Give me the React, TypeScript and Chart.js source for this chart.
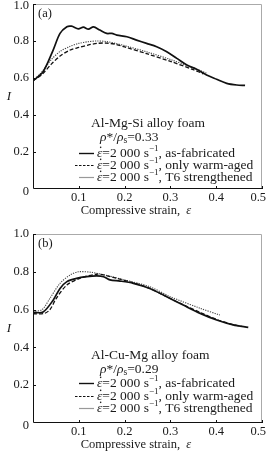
import React, { useEffect, useRef } from "react";
import { Chart, registerables } from "chart.js";
Chart.register(...registerables);

const xTicks = [0, 0.1, 0.2, 0.3, 0.4, 0.5];
const yTicks = [0, 0.2, 0.4, 0.6, 0.8, 1.0];
const xTickLabels = ["", "0.1", "0.2", "0.3", "0.4", "0.5"];
const yTickLabels = ["0", "0.2", "0.4", "0.6", "0.8", "1.0"];

// Panel (a) Al-Mg-Si
const aFabStrain = [0, 0.022, 0.044, 0.059, 0.074, 0.084, 0.099, 0.11, 0.121, 0.132, 0.146, 0.161, 0.172, 0.183, 0.205, 0.226, 0.248, 0.27, 0.292, 0.314, 0.336, 0.357, 0.379, 0.401, 0.423, 0.445, 0.463];
const aFabI = [0.585, 0.634, 0.751, 0.841, 0.877, 0.88, 0.866, 0.875, 0.864, 0.876, 0.859, 0.841, 0.841, 0.832, 0.823, 0.805, 0.787, 0.769, 0.742, 0.706, 0.67, 0.647, 0.616, 0.593, 0.571, 0.562, 0.56];
const aWarmStrain = [0, 0.02, 0.04, 0.06, 0.08, 0.10, 0.12, 0.14, 0.16, 0.18, 0.20, 0.25, 0.30, 0.35, 0.372];
const aWarmI = [0.585, 0.62, 0.675, 0.72, 0.75, 0.765, 0.778, 0.787, 0.789, 0.782, 0.768, 0.73, 0.69, 0.645, 0.622];
const aT6Strain = [0, 0.02, 0.04, 0.06, 0.08, 0.10, 0.12, 0.14, 0.16, 0.18, 0.20, 0.25, 0.30, 0.35, 0.38];
const aT6I = [0.585, 0.635, 0.70, 0.745, 0.77, 0.787, 0.796, 0.80, 0.797, 0.787, 0.775, 0.74, 0.70, 0.655, 0.625];

// Panel (b) Al-Cu-Mg
const bFabStrain = [0, 0.022, 0.044, 0.059, 0.074, 0.095, 0.117, 0.139, 0.154, 0.168, 0.19, 0.219, 0.255, 0.292, 0.328, 0.365, 0.401, 0.437, 0.47];
const bFabI = [0.585, 0.587, 0.65, 0.712, 0.748, 0.765, 0.774, 0.778, 0.774, 0.757, 0.751, 0.739, 0.712, 0.668, 0.624, 0.58, 0.545, 0.519, 0.506];
const bWarmStrain = [0, 0.025, 0.037, 0.051, 0.074, 0.102, 0.139, 0.16, 0.183, 0.219, 0.255, 0.292, 0.328, 0.365, 0.401, 0.437, 0.455];
const bWarmI = [0.578, 0.58, 0.6, 0.66, 0.73, 0.765, 0.787, 0.78, 0.765, 0.742, 0.712, 0.668, 0.626, 0.585, 0.548, 0.52, 0.512];
const bT6Strain = [0, 0.02, 0.037, 0.059, 0.081, 0.099, 0.128, 0.157, 0.2, 0.255, 0.3, 0.365, 0.408];
const bT6I = [0.59, 0.6, 0.66, 0.739, 0.783, 0.80, 0.797, 0.783, 0.757, 0.721, 0.668, 0.607, 0.571];

const seriesNames = ["as-fabricated", "only warm-aged", "T6 strengthened"];

const SERIF = "'Liberation Serif', 'Times New Roman', serif";
const TXT = "#1a1a1a";

type Run = { t: string; italic?: boolean; size?: number; dy?: number; dot?: boolean };

function drawRuns(ctx: CanvasRenderingContext2D, x: number, y: number, runs: Run[], base: number) {
  let cx = x;
  ctx.textBaseline = "middle";
  ctx.textAlign = "left";
  for (const r of runs) {
    const s = r.size ?? base;
    ctx.font = `${r.italic ? "italic " : ""}${s}px ${SERIF}`;
    ctx.fillText(r.t, cx, y + (r.dy ?? 0));
    const w = ctx.measureText(r.t).width;
    if (r.dot) {
      ctx.beginPath();
      ctx.arc(cx + w / 2 + 1, y - s * 0.42, 0.8, 0, Math.PI * 2);
      ctx.fill();
    }
    cx += w;
  }
}

function toXY(xs: number[], ys: number[]) {
  return xs.map((x, i) => ({ x, y: ys[i] }));
}

const styles = [
  { color: "#111", width: 1.7, dash: [] as number[] },
  { color: "#111", width: 1.3, dash: [4, 2] },
  { color: "#444", width: 1.1, dash: [1.2, 1.2] },
];

type PanelProps = {
  height: number;
  padTop: number;
  xAxisH: number;
  label: string;
  alloy: string;
  density: string;
  series: { xs: number[]; ys: number[] }[];
  textY: number[];
};

function Panel(p: PanelProps) {
  const ref = useRef<HTMLCanvasElement>(null);
  useEffect(() => {
    if (!ref.current) return;
    const deco = {
      id: "deco",
      afterDraw(chart: any) {
        const ctx: CanvasRenderingContext2D = chart.ctx;
        const a = chart.chartArea;
        const xs = chart.scales.x;
        const ys = chart.scales.y;
        ctx.save();
        ctx.lineWidth = 1;
        ctx.strokeStyle = "#aaa";
        ctx.beginPath();
        ctx.moveTo(a.left, a.top + 0.5);
        ctx.lineTo(a.right - 0.5, a.top + 0.5);
        ctx.lineTo(a.right - 0.5, a.bottom);
        ctx.stroke();
        ctx.strokeStyle = "#111";
        ctx.beginPath();
        ctx.moveTo(a.left + 0.5, a.top);
        ctx.lineTo(a.left + 0.5, a.bottom - 0.5);
        ctx.lineTo(a.right, a.bottom - 0.5);
        ctx.stroke();
        ctx.beginPath();
        for (const v of xTicks) {
          if (v === 0) continue;
          const px = Math.round(xs.getPixelForValue(v)) + 0.5;
          ctx.moveTo(px, a.bottom);
          ctx.lineTo(px, a.bottom - 3);
        }
        for (const v of yTicks) {
          if (v === 0) continue;
          const py = Math.round(ys.getPixelForValue(v)) + 0.5;
          ctx.moveTo(a.left, py);
          ctx.lineTo(a.left + 3, py);
        }
        ctx.stroke();
        ctx.fillStyle = TXT;
        ctx.font = `12.5px ${SERIF}`;
        ctx.textBaseline = "middle";
        ctx.textAlign = "right";
        yTicks.forEach((v, i) => {
          const py = ys.getPixelForValue(v) + (v === 0 ? 3 : 0);
          ctx.fillText(yTickLabels[i], a.left - 4, Math.max(py, 6));
        });
        ctx.textAlign = "center";
        xTicks.forEach((v, i) => {
          if (!xTickLabels[i]) return;
          const w = ctx.measureText(xTickLabels[i]).width;
          const px = Math.min(xs.getPixelForValue(v), chart.width - w / 2);
          ctx.fillText(xTickLabels[i], px, a.bottom + 9);
        });
        ctx.font = `italic 13px ${SERIF}`;
        ctx.fillText("I", 9, (a.top + a.bottom) / 2);
        const cxm = 136;
        const t1 = "Compressive strain,  ";
        ctx.font = `12.5px ${SERIF}`;
        const w1 = ctx.measureText(t1).width;
        ctx.font = `italic 12.5px ${SERIF}`;
        const w2 = ctx.measureText("ε").width;
        drawRuns(ctx, cxm - (w1 + w2) / 2, a.bottom + 22, [{ t: t1 }, { t: "ε", italic: true }], 12.5);
        drawRuns(ctx, a.left + 5, a.top + 10, [{ t: p.label }], 12.5);
        const ty = p.textY;
        drawRuns(ctx, 91, ty[0], [{ t: p.alloy }], 13.5);
        drawRuns(ctx, 100, ty[1], [
          { t: "ρ", italic: true },
          { t: "*/" },
          { t: "ρ", italic: true },
          { t: "s", size: 9.5, dy: 3 },
          { t: "=" + p.density },
        ], 13.5);
        for (let i = 0; i < 3; i++) {
          const y = ty[2 + i];
          const st = styles[i];
          ctx.save();
          ctx.strokeStyle = i === 2 ? "#999" : st.color;
          ctx.lineWidth = i === 2 ? 1.2 : i === 1 ? 1.1 : 1.4;
          ctx.setLineDash(i === 1 ? [2.5, 1.5] : []);
          ctx.beginPath();
          ctx.moveTo(i === 1 ? 75 : 79, y + 0.5);
          ctx.lineTo(94, y + 0.5);
          ctx.stroke();
          ctx.restore();
          drawRuns(ctx, 97, y, [
            { t: "ε", italic: true, dot: true },
            { t: "=2 000 s" },
            { t: "−1", size: 9, dy: -4 },
            { t: ", " + seriesNames[i] },
          ], 13.5);
        }
        ctx.restore();
      },
    };
    const chart = new Chart(ref.current, {
      type: "line",
      data: {
        datasets: p.series.map((s, i) => ({
          label: seriesNames[i],
          data: toXY(s.xs, s.ys),
          borderColor: styles[i].color,
          borderWidth: styles[i].width,
          borderDash: styles[i].dash,
          pointRadius: 0,
          tension: 0.3,
          fill: false,
        })),
      },
      options: {
        animation: false,
        responsive: false,
        maintainAspectRatio: false,
        layout: { padding: { top: p.padTop, right: 4, left: 0, bottom: 0 } },
        plugins: { legend: { display: false }, tooltip: { enabled: false } },
        scales: {
          x: {
            type: "linear",
            min: 0,
            max: 0.5,
            afterBuildTicks: (s: any) => {
              s.ticks = xTicks.map((v) => ({ value: v }));
            },
            afterFit: (s: any) => {
              s.height = p.xAxisH;
            },
            grid: { display: false, drawTicks: false },
            border: { display: false },
            ticks: { display: false },
          },
          y: {
            type: "linear",
            min: 0,
            max: 1,
            afterBuildTicks: (s: any) => {
              s.ticks = yTicks.map((v) => ({ value: v }));
            },
            afterFit: (s: any) => {
              s.width = 33;
            },
            grid: { display: false, drawTicks: false },
            border: { display: false },
            ticks: { display: false },
          },
        },
      },
      plugins: [deco],
    } as any);
    return () => chart.destroy();
  }, []);
  return <canvas ref={ref} width={266} height={p.height} style={{ display: "block", width: 266, height: p.height }} />;
}

export default function App() {
  return (
    <div style={{ position: "fixed", left: 0, top: 0, width: 266, height: 455, background: "#fff" }}>
      <Panel
        height={228}
        padTop={4}
        xAxisH={39}
        label="(a)"
        alloy="Al-Mg-Si alloy foam"
        density="0.33"
        series={[
          { xs: aFabStrain, ys: aFabI },
          { xs: aWarmStrain, ys: aWarmI },
          { xs: aT6Strain, ys: aT6I },
        ]}
        textY={[123, 137, 153, 165, 177]}
      />
      <Panel
        height={227}
        padTop={6}
        xAxisH={32}
        label="(b)"
        alloy="Al-Cu-Mg alloy foam"
        density="0.29"
        series={[
          { xs: bFabStrain, ys: bFabI },
          { xs: bWarmStrain, ys: bWarmI },
          { xs: bT6Strain, ys: bT6I },
        ]}
        textY={[127, 141, 155, 168, 180]}
      />
    </div>
  );
}
